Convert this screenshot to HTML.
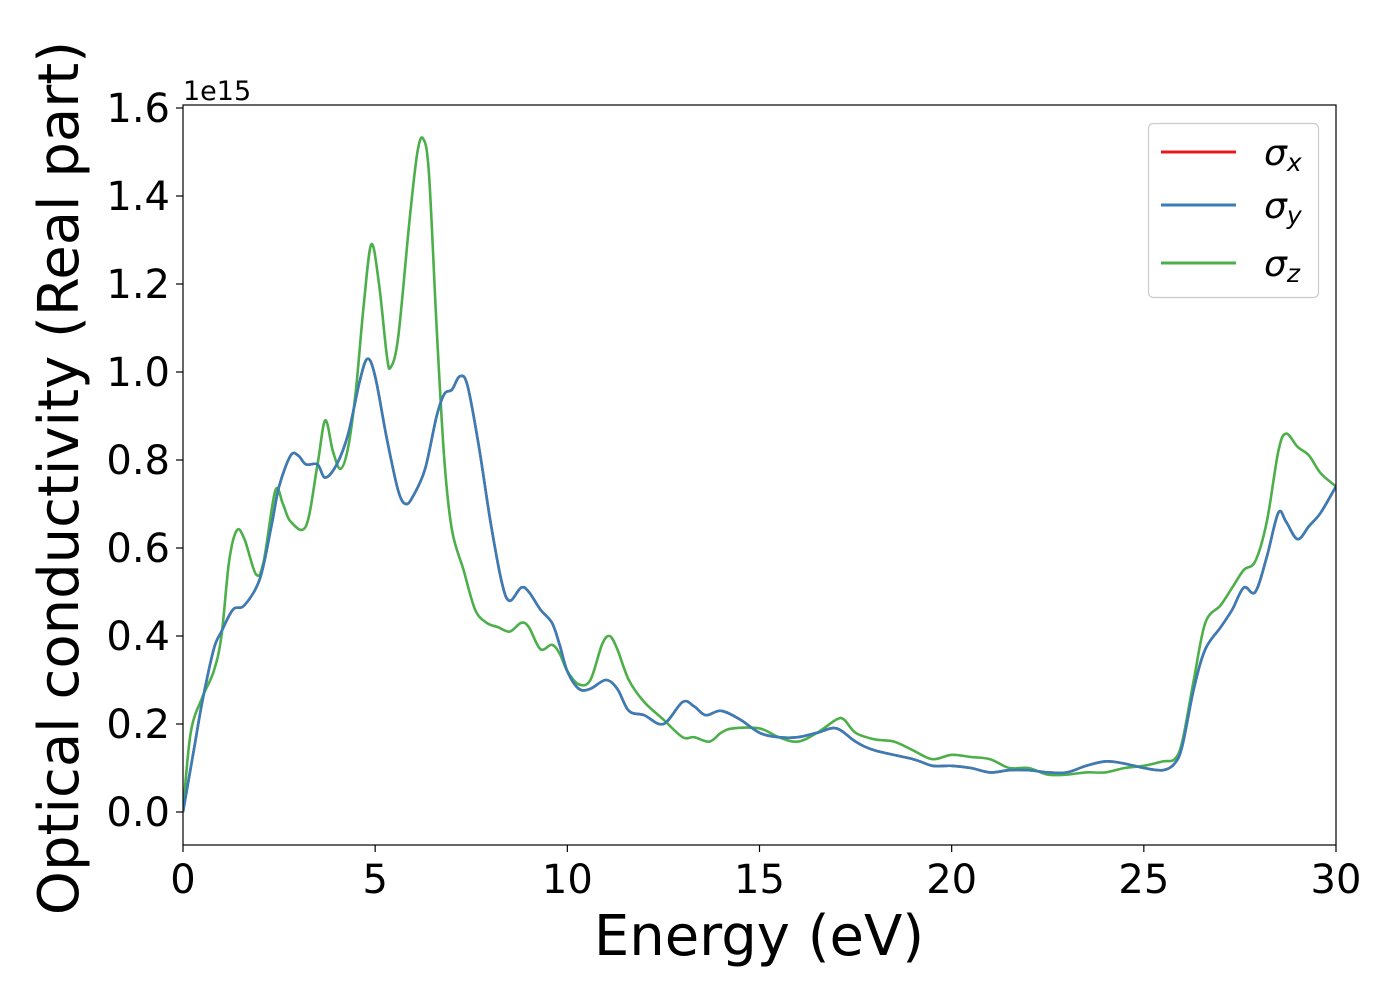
<!DOCTYPE html>
<html><head><meta charset="utf-8"><style>
html,body{margin:0;padding:0;background:#fff}
svg{display:block;font-family:"DejaVu Sans","Liberation Sans",sans-serif}
</style></head><body>
<svg id="chart" width="1400" height="1000" viewBox="0 0 1400 1000">
<rect width="1400" height="1000" fill="#fff"/>
<g id="series" clip-path="url(#clip)"></g>
<defs><clipPath id="clip"><rect x="183" y="105" width="1153" height="740"/></clipPath></defs>
<rect x="183" y="105" width="1153" height="740" fill="none" stroke="#000" stroke-width="1.2"/>
<g id="xticks"></g><g id="yticks"></g>
<text x="183" y="100" font-size="27">1e15</text>
<text x="759" y="955" font-size="56" text-anchor="middle">Energy (eV)</text>
<text transform="translate(78,478) rotate(-90)" font-size="56" text-anchor="middle">Optical conductivity (Real part)</text>
<g>
<rect x="1148.5" y="123.5" width="170" height="174" rx="5" fill="#fff" fill-opacity="0.8" stroke="#ccc" stroke-width="1.2"/>
<g><line x1="1161" y1="152" x2="1236" y2="152" stroke="#e41a1c" stroke-width="3"/><text x="1264" y="165" font-size="36" font-style="italic">σ<tspan font-size="25" dy="6">x</tspan></text></g>
<g><line x1="1161" y1="205" x2="1236" y2="205" stroke="#377eb8" stroke-width="3"/><text x="1264" y="218" font-size="36" font-style="italic">σ<tspan font-size="25" dy="6">y</tspan></text></g>
<g><line x1="1161" y1="263" x2="1236" y2="263" stroke="#4daf4a" stroke-width="3"/><text x="1264" y="276" font-size="36" font-style="italic">σ<tspan font-size="25" dy="6">z</tspan></text></g>
</g>
</svg>
<script>
const energyXY=[0,0.3,0.5,0.8,1.0,1.3,1.6,2.0,2.3,2.5,2.8,3.0,3.2,3.5,3.7,4.0,4.3,4.6,4.8,5.0,5.3,5.6,5.8,6.0,6.3,6.6,6.8,7.0,7.2,7.4,7.7,8.0,8.3,8.5,8.8,9.0,9.3,9.6,9.8,10.0,10.3,10.6,11.0,11.3,11.6,12.0,12.5,13.0,13.3,13.6,14.0,14.5,15.0,15.5,16.0,16.5,17.0,17.5,18.0,19.0,19.5,20.0,20.5,21.0,21.5,22.0,22.5,23.0,23.5,24.0,24.5,25.0,25.5,25.8,26.0,26.3,26.6,27.0,27.3,27.6,27.9,28.2,28.5,28.7,29.0,29.3,29.6,30.0];
const sigmaY=[0,0.15,0.25,0.37,0.41,0.46,0.47,0.53,0.65,0.74,0.81,0.81,0.79,0.79,0.76,0.79,0.86,0.98,1.03,0.99,0.85,0.73,0.70,0.72,0.78,0.90,0.95,0.96,0.99,0.97,0.83,0.66,0.52,0.48,0.51,0.50,0.46,0.43,0.38,0.32,0.28,0.28,0.30,0.28,0.23,0.22,0.20,0.25,0.24,0.22,0.23,0.21,0.18,0.17,0.17,0.18,0.19,0.16,0.14,0.12,0.105,0.105,0.10,0.09,0.095,0.095,0.09,0.09,0.105,0.115,0.11,0.10,0.095,0.11,0.15,0.28,0.37,0.42,0.46,0.51,0.50,0.58,0.68,0.66,0.62,0.65,0.68,0.74];
const sigmaX=sigmaY.slice();
const energyZ=[0,0.2,0.5,0.8,1.0,1.2,1.4,1.6,1.9,2.1,2.4,2.6,2.8,3.2,3.5,3.7,3.9,4.1,4.3,4.5,4.7,4.9,5.1,5.3,5.4,5.6,5.9,6.1,6.25,6.4,6.6,6.8,7.0,7.3,7.6,7.9,8.2,8.5,8.8,9.0,9.3,9.6,9.8,10.0,10.3,10.6,10.9,11.1,11.3,11.6,12.0,12.5,13.0,13.3,13.7,14.0,14.3,15.0,15.5,16.0,16.5,17.0,17.2,17.5,18.0,18.5,19.0,19.5,20.0,20.5,21.0,21.5,22.0,22.5,23.0,23.5,24.0,24.5,25.0,25.5,25.8,26.0,26.3,26.6,27.0,27.3,27.6,27.9,28.2,28.5,28.7,29.0,29.3,29.6,30.0];
const sigmaZ=[0,0.18,0.26,0.32,0.40,0.57,0.64,0.62,0.54,0.57,0.73,0.70,0.66,0.65,0.79,0.89,0.82,0.78,0.83,0.96,1.15,1.29,1.20,1.04,1.01,1.08,1.35,1.50,1.53,1.45,1.10,0.80,0.64,0.55,0.46,0.43,0.42,0.41,0.43,0.42,0.37,0.38,0.36,0.32,0.29,0.30,0.38,0.40,0.37,0.30,0.25,0.21,0.17,0.17,0.16,0.18,0.19,0.19,0.17,0.16,0.18,0.21,0.21,0.18,0.165,0.16,0.14,0.12,0.13,0.125,0.12,0.10,0.10,0.085,0.085,0.09,0.09,0.10,0.105,0.115,0.12,0.16,0.30,0.43,0.47,0.51,0.55,0.57,0.66,0.82,0.86,0.83,0.81,0.77,0.74];
const xTicks=[0,5,10,15,20,25,30];
const yTicks=[0,0.2,0.4,0.6,0.8,1.0,1.2,1.4,1.6];
const xs=v=>183+v*(1336-183)/30;
const ys=v=>812-v*440;
const NS="http://www.w3.org/2000/svg";
function path(xa,ya){
  const p=xa.map((x,i)=>[xs(x),ys(ya[i])]);
  let d="M"+p[0][0]+","+p[0][1];
  for(let i=0;i<p.length-1;i++){
    const p0=p[Math.max(i-1,0)],p1=p[i],p2=p[i+1],p3=p[Math.min(i+2,p.length-1)];
    const c1=[p1[0]+(p2[0]-p0[0])/6,p1[1]+(p2[1]-p0[1])/6];
    const c2=[p2[0]-(p3[0]-p1[0])/6,p2[1]-(p3[1]-p1[1])/6];
    d+=`C${c1[0]},${c1[1]} ${c2[0]},${c2[1]} ${p2[0]},${p2[1]}`;
  }
  return d;
}
const g=document.getElementById("series");
[["sigma-x-line",energyXY,sigmaX,"#e41a1c"],["sigma-z-line",energyZ,sigmaZ,"#4daf4a"],["sigma-y-line",energyXY,sigmaY,"#377eb8"]].forEach(s=>{
  const el=document.createElementNS(NS,"path");
  el.setAttribute("d",path(s[1],s[2]));
  el.setAttribute("fill","none");el.setAttribute("stroke",s[3]);el.setAttribute("stroke-width","2.6");
  
  
  g.appendChild(el);
});
const xg=document.getElementById("xticks");
xTicks.forEach(t=>{
  const l=document.createElementNS(NS,"line");
  l.setAttribute("x1",xs(t));l.setAttribute("x2",xs(t));l.setAttribute("y1",845);l.setAttribute("y2",852);l.setAttribute("stroke","#000");l.setAttribute("stroke-width","1.2");
  
  
  xg.appendChild(l);
  const tx=document.createElementNS(NS,"text");
  tx.setAttribute("x",xs(t));tx.setAttribute("y",893);tx.setAttribute("font-size","40");tx.setAttribute("text-anchor","middle");
  tx.textContent=t;
  
  
  xg.appendChild(tx);
});
const yg=document.getElementById("yticks");
yTicks.forEach(t=>{
  const l=document.createElementNS(NS,"line");
  l.setAttribute("x1",176);l.setAttribute("x2",183);l.setAttribute("y1",ys(t));l.setAttribute("y2",ys(t));l.setAttribute("stroke","#000");l.setAttribute("stroke-width","1.2");
  
  
  yg.appendChild(l);
  const tx=document.createElementNS(NS,"text");
  tx.setAttribute("x",170);tx.setAttribute("y",ys(t)+14);tx.setAttribute("font-size","40");tx.setAttribute("text-anchor","end");
  tx.textContent=t.toFixed(1);
  
  
  yg.appendChild(tx);
});
</script>
</body></html>
